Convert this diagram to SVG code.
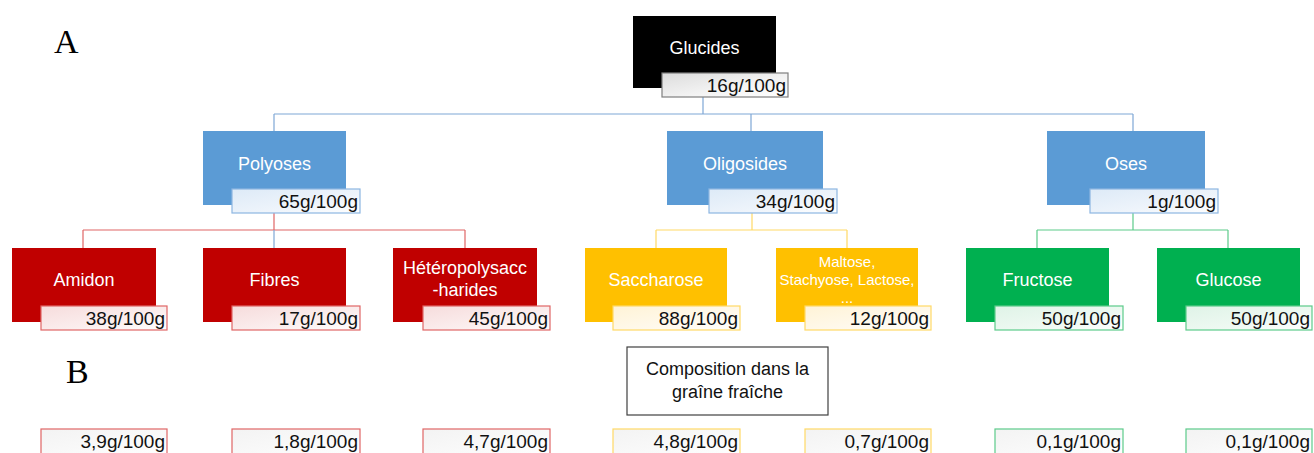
<svg xmlns="http://www.w3.org/2000/svg" width="1314" height="453" viewBox="0 0 1314 453">
<defs>
<linearGradient id="gGray" x1="0" y1="0" x2="1" y2="1"><stop offset="0" stop-color="#DCDCDC"/><stop offset="0.6" stop-color="#F4F4F4"/><stop offset="1" stop-color="#FFFFFF"/></linearGradient>
<linearGradient id="gBlue" x1="0" y1="0" x2="1" y2="1"><stop offset="0" stop-color="#DDEAF7"/><stop offset="0.6" stop-color="#EEF4FB"/><stop offset="1" stop-color="#FFFFFF"/></linearGradient>
<linearGradient id="gRed" x1="0" y1="0" x2="1" y2="1"><stop offset="0" stop-color="#F6DCDC"/><stop offset="0.6" stop-color="#FBEEEE"/><stop offset="1" stop-color="#FFFFFF"/></linearGradient>
<linearGradient id="gYel" x1="0" y1="0" x2="1" y2="1"><stop offset="0" stop-color="#FFF3D6"/><stop offset="0.6" stop-color="#FFF9EC"/><stop offset="1" stop-color="#FFFFFF"/></linearGradient>
<linearGradient id="gGrn" x1="0" y1="0" x2="1" y2="1"><stop offset="0" stop-color="#DFF3E7"/><stop offset="0.6" stop-color="#EEF9F2"/><stop offset="1" stop-color="#FFFFFF"/></linearGradient>
<linearGradient id="gWhite" x1="0" y1="0" x2="1" y2="1"><stop offset="0" stop-color="#F3F3F3"/><stop offset="1" stop-color="#FFFFFF"/></linearGradient>
</defs>
<style>
.node{stroke:none}
.blk{fill:#000000}
.blu{fill:#5B9BD5}
.red{fill:#C00000}
.yel{fill:#FFC000}
.grn{fill:#00B050}
.nt{font-family:"Liberation Sans",Arial,sans-serif;font-size:18px;fill:#FFFFFF;text-anchor:middle}
.nts{font-family:"Liberation Sans",Arial,sans-serif;font-size:15px;fill:#FFFFFF;text-anchor:middle}
.lt{font-family:"Liberation Sans",Arial,sans-serif;font-size:19px;fill:#111111;text-anchor:end}
.lgray{fill:url(#gGray);stroke:#7F7F7F;stroke-width:1.2}
.lblu{fill:url(#gBlue);stroke:#8DB6E2;stroke-width:1.2}
.lred{fill:url(#gRed);stroke:#E06666;stroke-width:1.2}
.lyel{fill:url(#gYel);stroke:#FFD966;stroke-width:1.2}
.lgrn{fill:url(#gGrn);stroke:#5CCB8A;stroke-width:1.2}
.wred{fill:url(#gWhite);stroke:#E06666;stroke-width:1.2}
.wyel{fill:url(#gWhite);stroke:#FFD966;stroke-width:1.2}
.wgrn{fill:url(#gWhite);stroke:#5CCB8A;stroke-width:1.2}
.cb{fill:none;stroke:#7FA7D6;stroke-width:1.2}
.cr{fill:none;stroke:#E06666;stroke-width:1.2}
.cy{fill:none;stroke:#FFD966;stroke-width:1.2}
.cg{fill:none;stroke:#5CCB8A;stroke-width:1.2}
.big{font-family:"Liberation Serif","Times New Roman",serif;font-size:34px;fill:#000000}
.ct{font-family:"Liberation Sans",Arial,sans-serif;font-size:18px;fill:#111111;text-anchor:middle}
</style>
<rect width="1314" height="453" fill="#FFFFFF"/>
<text class="big" x="54" y="53">A</text>
<text class="big" x="66" y="383">B</text>
<g id="connectors">
<path class="cb" d="M703,97 V114 M274,114 H1133 M274,114 V131 M751,114 V131 M1133,114 V131"/>
<path class="cr" d="M274,213 V230 M83,230 H465 M83,230 V248 M465,230 V248"/>
<path class="cb" d="M274,230 V248"/>
<path class="cy" d="M752,213 V230 M656,230 H847 M656,230 V248 M847,230 V248"/>
<path class="cg" d="M1133,213 V230 M1037,230 H1228 M1037,230 V248 M1228,230 V248"/>
</g>
<g id="glucides">
<rect class="node blk" x="633" y="16" width="143" height="72"/>
<text class="nt" x="704.5" y="54">Glucides</text>
<rect class="lgray" x="662" y="73" width="126" height="24"/>
<text class="lt" x="786" y="92">16g/100g</text>
</g>
<g id="polyoses">
<rect class="node blu" x="203" y="131" width="143" height="74"/>
<text class="nt" x="274.5" y="170">Polyoses</text>
<rect class="lblu" x="232" y="189" width="128" height="24"/>
<text class="lt" x="358" y="208">65g/100g</text>
</g>
<g id="oligosides">
<rect class="node blu" x="667" y="131" width="156" height="74"/>
<text class="nt" x="745" y="170">Oligosides</text>
<rect class="lblu" x="709" y="189" width="128" height="24"/>
<text class="lt" x="835" y="208">34g/100g</text>
</g>
<g id="oses">
<rect class="node blu" x="1047" y="131" width="158" height="74"/>
<text class="nt" x="1126" y="170">Oses</text>
<rect class="lblu" x="1090" y="189" width="128" height="24"/>
<text class="lt" x="1216" y="208">1g/100g</text>
</g>
<g id="amidon">
<rect class="node red" x="12" y="248" width="144" height="74"/>
<text class="nt" x="84" y="286">Amidon</text>
<rect class="lred" x="41" y="306" width="126" height="24"/>
<text class="lt" x="165" y="325">38g/100g</text>
</g>
<g id="fibres">
<rect class="node red" x="203" y="248" width="143" height="74"/>
<text class="nt" x="274.5" y="286">Fibres</text>
<rect class="lred" x="232" y="306" width="128" height="24"/>
<text class="lt" x="358" y="325">17g/100g</text>
</g>
<g id="heteropolysaccharides">
<rect class="node red" x="393" y="248" width="144" height="74"/>
<text class="nt" x="465" y="274">Hétéropolysacc</text>
<text class="nt" x="465" y="296">-harides</text>
<rect class="lred" x="423" y="306" width="127" height="24"/>
<text class="lt" x="548" y="325">45g/100g</text>
</g>
<g id="saccharose">
<rect class="node yel" x="585" y="248" width="142" height="74"/>
<text class="nt" x="656" y="286">Saccharose</text>
<rect class="lyel" x="613" y="306" width="127" height="24"/>
<text class="lt" x="738" y="325">88g/100g</text>
</g>
<g id="maltose">
<rect class="node yel" x="776" y="248" width="142" height="74"/>
<text class="nts" x="847" y="267">Maltose,</text>
<text class="nts" x="847" y="285">Stachyose, Lactose,</text>
<text class="nts" x="847" y="303">...</text>
<rect class="lyel" x="805" y="306" width="126" height="24"/>
<text class="lt" x="929" y="325">12g/100g</text>
</g>
<g id="fructose">
<rect class="node grn" x="966" y="248" width="143" height="74"/>
<text class="nt" x="1037.5" y="286">Fructose</text>
<rect class="lgrn" x="995" y="306" width="128" height="24"/>
<text class="lt" x="1121" y="325">50g/100g</text>
</g>
<g id="glucose">
<rect class="node grn" x="1157" y="248" width="143" height="74"/>
<text class="nt" x="1228.5" y="286">Glucose</text>
<rect class="lgrn" x="1186" y="306" width="126" height="24"/>
<text class="lt" x="1310" y="325">50g/100g</text>
</g>
<g id="composition">
<rect x="627" y="347" width="201" height="68" fill="#FFFFFF" stroke="#404040" stroke-width="1.2"/>
<text class="ct" x="727.5" y="375">Composition dans la</text>
<text class="ct" x="727.5" y="398">graîne fraîche</text>
</g>
<g id="fresh-values">
<rect class="wred" x="41" y="429" width="126" height="30"/>
<text class="lt" x="165" y="448">3,9g/100g</text>
<rect class="wred" x="232" y="429" width="128" height="30"/>
<text class="lt" x="358" y="448">1,8g/100g</text>
<rect class="wred" x="423" y="429" width="127" height="30"/>
<text class="lt" x="548" y="448">4,7g/100g</text>
<rect class="wyel" x="613" y="429" width="127" height="30"/>
<text class="lt" x="738" y="448">4,8g/100g</text>
<rect class="wyel" x="805" y="429" width="126" height="30"/>
<text class="lt" x="929" y="448">0,7g/100g</text>
<rect class="wgrn" x="995" y="429" width="128" height="30"/>
<text class="lt" x="1121" y="448">0,1g/100g</text>
<rect class="wgrn" x="1186" y="429" width="126" height="30"/>
<text class="lt" x="1310" y="448">0,1g/100g</text>
</g>
</svg>
